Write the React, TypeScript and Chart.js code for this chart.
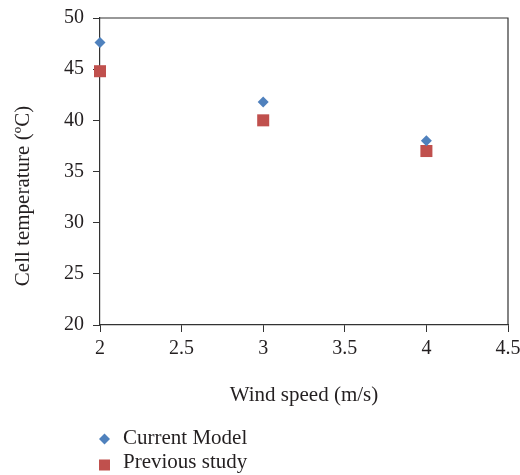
import React, { useEffect, useRef } from "react";
import { Chart, registerables } from "chart.js";

Chart.register(...registerables);

const windSpeed = [2, 3, 4];
const currentModel = [47.6, 41.8, 38.0];
const previousStudy = [44.8, 40.0, 37.0];
const seriesNames = ["Current Model", "Previous study"];
const xTitle = "Wind speed (m/s)";
const yTitle = "Cell temperature (ºC)";

const FONT = "'Liberation Serif', 'Times New Roman', serif";
const TICK_FS = 20;
const TITLE_FS = 21;
const TEXT = "#231f20";
const BLUE = "#4f81bd";
const RED = "#c0504d";

const framePlugin = {
  id: "frame",
  afterDraw(chart: any) {
    const { ctx, chartArea } = chart;
    ctx.save();
    ctx.strokeStyle = "#333";
    ctx.lineWidth = 1.2;
    ctx.beginPath();
    ctx.moveTo(chartArea.left, chartArea.top);
    ctx.lineTo(chartArea.right, chartArea.top);
    ctx.lineTo(chartArea.right, chartArea.bottom);
    ctx.stroke();
    // y axis title
    ctx.font = `${TITLE_FS}px ${FONT}`;
    ctx.fillStyle = TEXT;
    ctx.translate(23, 196);
    ctx.rotate(-Math.PI / 2);
    ctx.textAlign = "center";
    ctx.textBaseline = "middle";
    ctx.fillText(yTitle, 0, 0);
    ctx.restore();
  },
};

const legendPlugin = {
  id: "customLegend",
  afterDraw(chart: any) {
    const { ctx } = chart;
    ctx.save();
    ctx.font = `${TITLE_FS}px ${FONT}`;
    ctx.textBaseline = "alphabetic";
    const cx = 104.5;
    const y1 = 439;
    ctx.fillStyle = BLUE;
    ctx.beginPath();
    ctx.moveTo(cx, y1 - 5.5);
    ctx.lineTo(cx + 5.5, y1);
    ctx.lineTo(cx, y1 + 5.5);
    ctx.lineTo(cx - 5.5, y1);
    ctx.closePath();
    ctx.fill();
    ctx.fillStyle = TEXT;
    ctx.fillText(seriesNames[0], 123, 443.5);
    const y2 = 465;
    ctx.fillStyle = RED;
    ctx.fillRect(cx - 5.5, y2 - 5.5, 11, 11);
    ctx.fillStyle = TEXT;
    ctx.fillText(seriesNames[1], 123, 468);
    ctx.restore();
  },
};

export default function App() {
  const ref = useRef<HTMLCanvasElement>(null);
  useEffect(() => {
    document.body.style.margin = "0";
    const chart = new Chart(ref.current as HTMLCanvasElement, {
      type: "scatter",
      data: {
        datasets: [
          {
            label: seriesNames[0],
            data: windSpeed.map((x, i) => ({ x, y: currentModel[i] })),
            pointStyle: "rectRot",
            pointRadius: 5.5,
            backgroundColor: BLUE,
            borderColor: BLUE,
            borderWidth: 0,
            clip: false,
          },
          {
            label: seriesNames[1],
            data: windSpeed.map((x, i) => ({ x, y: previousStudy[i] })),
            pointStyle: "rect",
            pointRadius: 8.5,
            backgroundColor: RED,
            borderColor: RED,
            borderWidth: 0,
            clip: false,
          },
        ],
      },
      options: {
        animation: false,
        responsive: false,
        layout: { padding: { left: 12, top: 18, right: 12, bottom: 67 } },
        plugins: {
          legend: { display: false },
          tooltip: { enabled: false },
        },
        scales: {
          x: {
            type: "linear",
            min: 2,
            max: 4.5,
            afterFit: (s: any) => {
              s.height = 83;
              s.paddingRight = 0;
              s.paddingLeft = 0;
            },
            ticks: {
              stepSize: 0.5,
              color: TEXT,
              font: { family: FONT, size: TICK_FS },
              padding: 5,
              callback: (v: any) => String(v),
            },
            grid: {
              drawOnChartArea: false,
              drawTicks: true,
              tickLength: 7,
              color: "#333",
            },
            border: { display: true, color: "#333", width: 1.2 },
            title: {
              display: true,
              text: xTitle,
              color: TEXT,
              font: { family: FONT, size: TITLE_FS },
              padding: 0,
            },
          },
          y: {
            type: "linear",
            min: 20,
            max: 50,
            afterFit: (s: any) => {
              s.width = 88;
              s.paddingTop = 0;
              s.paddingBottom = 0;
            },
            ticks: {
              stepSize: 5,
              color: TEXT,
              font: { family: FONT, size: TICK_FS },
              padding: 9,
              callback: (v: any) => String(v),
            },
            grid: {
              drawOnChartArea: false,
              drawTicks: true,
              tickLength: 7,
              color: "#333",
            },
            border: { display: true, color: "#333", width: 1.2 },
            title: { display: false },
          },
        },
      },
      plugins: [framePlugin, legendPlugin],
    });
    return () => chart.destroy();
  }, []);
  return <canvas ref={ref} width={520} height={475} style={{ display: "block" }} />;
}
